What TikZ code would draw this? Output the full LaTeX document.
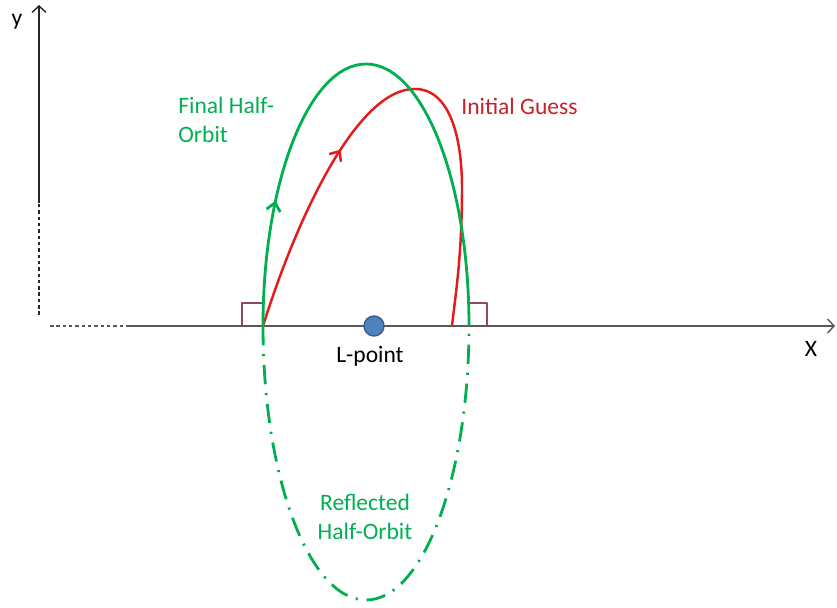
\documentclass[tikz,border=0pt]{standalone}
\usepackage{fontspec}
\setmainfont{Carlito}
\usepackage{xcolor}
\usetikzlibrary{arrows.meta,decorations.markings}
\definecolor{axisink}{HTML}{595959}
\definecolor{orbitgreen}{HTML}{00B050}
\definecolor{guessred}{HTML}{E31B1B}
\definecolor{guesstext}{HTML}{C8202A}
\definecolor{rightangle}{HTML}{8E4A5C}
\definecolor{lpointfill}{HTML}{4F81BD}
\definecolor{lpointink}{HTML}{385D8A}

\begin{document}
\begin{tikzpicture}[
  font=\fontsize{13.4}{16.4}\selectfont,
  line join=round,
  axis/.style={
    draw=axisink,
    line width=0.8pt
  },
  axisarr/.style={
    axis,
    -{Straight Barb[length=1.3mm,width=2.8mm]}
  },
  halforbit/.style={
    draw=orbitgreen,
    line width=1.6pt
  },
  reflected/.style={
    draw=orbitgreen,
    line width=1.6pt,
    dash pattern=on 11pt off 5pt on 1.2pt off 5pt
  },
  guess/.style={
    draw=guessred,
    line width=1.4pt
  },
  flowmark/.style={
    decoration={markings,
      mark=at position #1 with {\arrow{Straight Barb[length=1.6mm,width=2.8mm]}}},
    postaction=decorate
  },
  square/.style={
    draw=rightangle,
    line width=0.6pt
  },
  lbl/.style={
    inner sep=0pt,
    align=left
  }
]

\useasboundingbox (0,0) rectangle (16.74,12.16);

% ------------------------------------------------------------
% Axes
% ------------------------------------------------------------

\coordinate (ybottom) at (0.78,5.86);
\coordinate (ybreak)  at (0.78,8.10);
\coordinate (ytip)    at (0.78,12.06);
\coordinate (xstart)  at (1.00,5.64);
\coordinate (xbreak)  at (2.56,5.64);
\coordinate (xtip)    at (16.70,5.64);

\draw[axis,draw=black!85,dash pattern=on 2pt off 1.6pt] (ybottom) -- (ybreak);
\draw[axisarr,draw=black!85] (ybreak) -- (ytip);
\draw[axis,dash pattern=on 2pt off 1.6pt] (xstart) -- (xbreak);
\draw[axisarr] (xbreak) -- (xtip);

\node[lbl] (ylabel) at (0.34,11.72) {y};
\node[lbl] (xlabel) at (16.22,5.18) {X};

% ------------------------------------------------------------
% Orbits
% ------------------------------------------------------------

\coordinate (lft) at (5.26,5.64);
\coordinate (rgt) at (9.38,5.64);
\coordinate (redpeak) at (8.30,10.38);
\coordinate (redside) at (9.24,8.40);
\coordinate (redend) at (9.04,5.64);

% right angles where the half-orbit meets the x axis
\draw[square] (lft) -- ++(0,0.46) -| (4.84,5.64);
\draw[square] (rgt) -- ++(0,0.46) -| (9.74,5.64);

\draw[guess,flowmark=0.35]
  (lft)
  .. controls (6.00,8.00) and (7.20,10.40) .. (redpeak)
  .. controls (9.00,10.38) and (9.24,9.40) .. (redside)
  .. controls (9.24,7.00) and (9.10,6.20) .. (redend);

\draw[halforbit,flowmark=0.21]
  (lft) arc[start angle=180,end angle=0,x radius=2.06,y radius=5.24];

\draw[reflected]
  (lft) arc[start angle=180,end angle=360,x radius=2.06,y radius=5.48];

\node[
  circle,
  draw=lpointink,
  fill=lpointfill,
  line width=0.8pt,
  minimum size=0.40cm,
  inner sep=0pt
] (lpoint) at (7.48,5.64) {};

% ------------------------------------------------------------
% Labels
% ------------------------------------------------------------

\node[lbl] (lpointlabel) at (7.40,5.04) {L-point};

\node[lbl,anchor=west,text=orbitgreen] (finallabel) at (3.56,9.76)
  {Final Half-\\Orbit};

\node[lbl,anchor=west,text=guesstext] (guesslabel) at (9.22,10.04)
  {Initial Guess};

\node[lbl,align=center,text=orbitgreen] (reflectlabel) at (7.30,1.82)
  {Reflected\\Half-Orbit};
\end{tikzpicture}
\end{document}
